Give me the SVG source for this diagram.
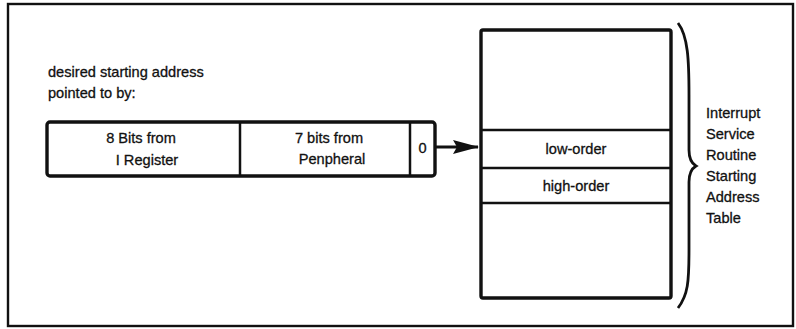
<svg xmlns="http://www.w3.org/2000/svg" width="796" height="329" viewBox="0 0 796 329">
<defs>
<style>
text{font-family:"Liberation Sans",Arial,sans-serif;font-size:14.6px;fill:#111;stroke:#111;stroke-width:0.3}
.c{text-anchor:middle}
.box{fill:#fff;stroke:#111;stroke-width:3.4}
.ln{fill:none;stroke:#111;stroke-width:2.5}
</style>
<marker id="ah" viewBox="0 0 26 14" refX="25" refY="7" markerWidth="26" markerHeight="14" markerUnits="userSpaceOnUse" orient="auto">
<path d="M0,0 L26,7 L0,14 L4,7 Z" fill="#111"/>
</marker>
</defs>
<rect x="0" y="0" width="796" height="329" fill="#fff"/>
<rect id="frame" x="8" y="4" width="785" height="322" fill="none" stroke="#111" stroke-width="2.4"/>
<g id="caption">
<text x="48" y="77">desired starting address</text>
<text x="48" y="98">pointed to by:</text>
</g>
<g id="register">
<rect class="box" x="47" y="122" width="388" height="54" rx="3"/>
<line class="ln" x1="240" y1="122" x2="240" y2="176"/>
<line class="ln" x1="410" y1="122" x2="410" y2="176"/>
<text class="c" x="141" y="143">8 Bits from</text>
<text class="c" x="147" y="165">I Register</text>
<text class="c" x="329" y="143">7 bits from</text>
<text class="c" x="332" y="164">Penpheral</text>
<text class="c" x="422.5" y="153">0</text>
</g>
<g id="table">
<rect class="box" x="481" y="30" width="190" height="268" rx="2"/>
<line class="ln" x1="481" y1="130" x2="671" y2="130"/>
<line class="ln" x1="481" y1="168" x2="671" y2="168"/>
<line class="ln" x1="481" y1="203" x2="671" y2="203"/>
<text class="c" x="576" y="154">low-order</text>
<text class="c" x="576" y="191">high-order</text>
</g>
<g id="brace-label">
<path d="M678,23 C688,36 689,60 689,95 L689,150 C689,158 691,163 696,166 C691,169 689,174 689,182 L689,250 C689,282 688,295 678,308" fill="none" stroke="#111" stroke-width="2.8"/>
<text x="706" y="118">Interrupt</text>
<text x="706" y="139">Service</text>
<text x="706" y="160">Routine</text>
<text x="706" y="181">Starting</text>
<text x="706" y="202">Address</text>
<text x="706" y="223">Table</text>
</g>
<g id="connectors">
<line x1="436" y1="147" x2="478" y2="147" stroke="#111" stroke-width="2.8" marker-end="url(#ah)"/>
</g>
</svg>
